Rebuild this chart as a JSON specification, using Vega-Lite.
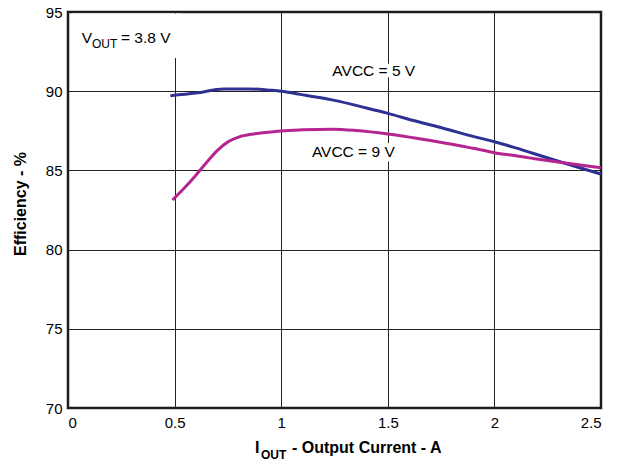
{
  "$schema": "https://vega.github.io/schema/vega-lite/v6.json",
  "width": 533,
  "height": 396,
  "autosize": {"type": "none"},
  "padding": {"left": 68, "top": 12, "right": 22, "bottom": 57},
  "background": "white",
  "config": {
    "font": "Liberation Sans",
    "view": {"stroke": "#1a1a1a", "strokeWidth": 2.5},
    "axis": {
      "domain": false,
      "ticks": false,
      "grid": true,
      "gridColor": "#222222",
      "gridWidth": 1,
      "gridOpacity": 1,
      "labelFont": "Liberation Sans",
      "labelFontSize": 15,
      "labelColor": "#000000",
      "titleFont": "Liberation Sans",
      "titleColor": "#000000"
    }
  },
  "datasets": {
    "curves": [
      {"series": "AVCC = 5 V", "current": 0.48, "eff": 89.72},
      {"series": "AVCC = 5 V", "current": 0.6, "eff": 89.88},
      {"series": "AVCC = 5 V", "current": 0.73, "eff": 90.14},
      {"series": "AVCC = 5 V", "current": 0.85, "eff": 90.14},
      {"series": "AVCC = 5 V", "current": 0.95, "eff": 90.06},
      {"series": "AVCC = 5 V", "current": 1.0, "eff": 90.0},
      {"series": "AVCC = 5 V", "current": 1.09, "eff": 89.8},
      {"series": "AVCC = 5 V", "current": 1.18, "eff": 89.6},
      {"series": "AVCC = 5 V", "current": 1.25, "eff": 89.42},
      {"series": "AVCC = 5 V", "current": 1.4, "eff": 88.94},
      {"series": "AVCC = 5 V", "current": 1.5, "eff": 88.6},
      {"series": "AVCC = 5 V", "current": 1.62, "eff": 88.15},
      {"series": "AVCC = 5 V", "current": 1.76, "eff": 87.66},
      {"series": "AVCC = 5 V", "current": 1.9, "eff": 87.15},
      {"series": "AVCC = 5 V", "current": 2.0, "eff": 86.81},
      {"series": "AVCC = 5 V", "current": 2.1, "eff": 86.42},
      {"series": "AVCC = 5 V", "current": 2.18, "eff": 86.08},
      {"series": "AVCC = 5 V", "current": 2.3, "eff": 85.58},
      {"series": "AVCC = 5 V", "current": 2.4, "eff": 85.17},
      {"series": "AVCC = 5 V", "current": 2.5, "eff": 84.77},
      {"series": "AVCC = 9 V", "current": 0.49, "eff": 83.13},
      {"series": "AVCC = 9 V", "current": 0.55, "eff": 83.95},
      {"series": "AVCC = 9 V", "current": 0.6, "eff": 84.7},
      {"series": "AVCC = 9 V", "current": 0.65, "eff": 85.5},
      {"series": "AVCC = 9 V", "current": 0.7, "eff": 86.25},
      {"series": "AVCC = 9 V", "current": 0.75, "eff": 86.8},
      {"series": "AVCC = 9 V", "current": 0.8, "eff": 87.1},
      {"series": "AVCC = 9 V", "current": 0.87, "eff": 87.3},
      {"series": "AVCC = 9 V", "current": 0.95, "eff": 87.42},
      {"series": "AVCC = 9 V", "current": 1.0, "eff": 87.49},
      {"series": "AVCC = 9 V", "current": 1.1, "eff": 87.56},
      {"series": "AVCC = 9 V", "current": 1.24, "eff": 87.6},
      {"series": "AVCC = 9 V", "current": 1.35, "eff": 87.52},
      {"series": "AVCC = 9 V", "current": 1.5, "eff": 87.3},
      {"series": "AVCC = 9 V", "current": 1.62, "eff": 87.06},
      {"series": "AVCC = 9 V", "current": 1.76, "eff": 86.75},
      {"series": "AVCC = 9 V", "current": 1.85, "eff": 86.52},
      {"series": "AVCC = 9 V", "current": 1.9, "eff": 86.4},
      {"series": "AVCC = 9 V", "current": 2.0, "eff": 86.12},
      {"series": "AVCC = 9 V", "current": 2.1, "eff": 85.92},
      {"series": "AVCC = 9 V", "current": 2.18, "eff": 85.76},
      {"series": "AVCC = 9 V", "current": 2.34, "eff": 85.45},
      {"series": "AVCC = 9 V", "current": 2.5, "eff": 85.17}
    ],
    "one": [{}]
  },
  "layer": [
    {
      "data": {"name": "curves"},
      "mark": {"type": "line", "strokeWidth": 3, "interpolate": "monotone", "clip": false},
      "encoding": {
        "x": {
          "field": "current",
          "type": "quantitative",
          "scale": {"domain": [0, 2.5], "nice": false, "zero": false},
          "axis": {"values": [0, 0.5, 1, 1.5, 2, 2.5], "format": "~g", "title": null, "labelPadding": 7}
        },
        "y": {
          "field": "eff",
          "type": "quantitative",
          "scale": {"domain": [70, 95], "nice": false, "zero": false},
          "axis": {
            "values": [70, 75, 80, 85, 90, 95],
            "labelPadding": 6,
            "title": "Efficiency - %",
            "titleFontSize": 16,
            "titleFontWeight": "bold",
            "titleX": -48,
            "titleY": 191.5,
            "titleAngle": -90,
            "titleAlign": "center",
            "titleBaseline": "middle"
          }
        },
        "color": {
          "field": "series",
          "type": "nominal",
          "scale": {"domain": ["AVCC = 5 V", "AVCC = 9 V"], "range": ["#2e3192", "#b5258f"]},
          "legend": null
        },
        "detail": {"field": "series"}
      }
    },
    {
      "data": {"name": "one"},
      "mark": {"type": "rect", "fill": "white"},
      "encoding": {
        "x": {"datum": 0.02, "type": "quantitative"},
        "x2": {"datum": 0.53},
        "y": {"datum": 92.1, "type": "quantitative"},
        "y2": {"datum": 94.9}
      }
    },
    {
      "data": {"name": "one"},
      "mark": {"type": "text", "align": "left", "baseline": "alphabetic", "fontSize": 15.5, "stroke": "white", "strokeWidth": 9, "strokeJoin": "round", "fill": "white"},
      "encoding": {
        "x": {"datum": 1.24, "type": "quantitative"},
        "y": {"datum": 90.96, "type": "quantitative"},
        "text": {"value": "AVCC = 5 V"}
      }
    },
    {
      "data": {"name": "one"},
      "mark": {"type": "text", "align": "left", "baseline": "alphabetic", "fontSize": 15.5, "stroke": "white", "strokeWidth": 9, "strokeJoin": "round", "fill": "white"},
      "encoding": {
        "x": {"datum": 1.144, "type": "quantitative"},
        "y": {"datum": 85.85, "type": "quantitative"},
        "text": {"value": "AVCC = 9 V"}
      }
    },
    {
      "data": {"name": "one"},
      "mark": {"type": "text", "align": "left", "baseline": "alphabetic", "fontSize": 15.5, "color": "#000000"},
      "encoding": {
        "x": {"datum": 1.24, "type": "quantitative"},
        "y": {"datum": 90.96, "type": "quantitative"},
        "text": {"value": "AVCC = 5 V"}
      }
    },
    {
      "data": {"name": "one"},
      "mark": {"type": "text", "align": "left", "baseline": "alphabetic", "fontSize": 15.5, "color": "#000000"},
      "encoding": {
        "x": {"datum": 1.144, "type": "quantitative"},
        "y": {"datum": 85.85, "type": "quantitative"},
        "text": {"value": "AVCC = 9 V"}
      }
    },
    {
      "data": {"name": "one"},
      "mark": {"type": "text", "align": "left", "baseline": "alphabetic", "fontSize": 15.5, "color": "#000000", "dx": 13.7, "dy": 31},
      "encoding": {
        "x": {"datum": 0, "type": "quantitative"},
        "y": {"datum": 95, "type": "quantitative"},
        "text": {"value": "V"}
      }
    },
    {
      "data": {"name": "one"},
      "mark": {"type": "text", "align": "left", "baseline": "alphabetic", "fontSize": 12, "color": "#000000", "dx": 24, "dy": 35.5},
      "encoding": {
        "x": {"datum": 0, "type": "quantitative"},
        "y": {"datum": 95, "type": "quantitative"},
        "text": {"value": "OUT"}
      }
    },
    {
      "data": {"name": "one"},
      "mark": {"type": "text", "align": "left", "baseline": "alphabetic", "fontSize": 15.5, "color": "#000000", "dx": 53, "dy": 31},
      "encoding": {
        "x": {"datum": 0, "type": "quantitative"},
        "y": {"datum": 95, "type": "quantitative"},
        "text": {"value": "= 3.8 V"}
      }
    },
    {
      "data": {"name": "one"},
      "mark": {"type": "text", "align": "left", "baseline": "alphabetic", "fontSize": 16, "fontWeight": "bold", "color": "#000000", "dx": -79.5, "dy": 45, "clip": false},
      "encoding": {
        "x": {"datum": 1.25, "type": "quantitative"},
        "y": {"datum": 70, "type": "quantitative"},
        "text": {"value": "I"}
      }
    },
    {
      "data": {"name": "one"},
      "mark": {"type": "text", "align": "left", "baseline": "alphabetic", "fontSize": 12, "fontWeight": "bold", "color": "#000000", "dx": -73.5, "dy": 50.5, "clip": false},
      "encoding": {
        "x": {"datum": 1.25, "type": "quantitative"},
        "y": {"datum": 70, "type": "quantitative"},
        "text": {"value": "OUT"}
      }
    },
    {
      "data": {"name": "one"},
      "mark": {"type": "text", "align": "left", "baseline": "alphabetic", "fontSize": 16, "fontWeight": "bold", "color": "#000000", "dx": -42.5, "dy": 45, "clip": false},
      "encoding": {
        "x": {"datum": 1.25, "type": "quantitative"},
        "y": {"datum": 70, "type": "quantitative"},
        "text": {"value": "- Output Current - A"}
      }
    }
  ]
}
